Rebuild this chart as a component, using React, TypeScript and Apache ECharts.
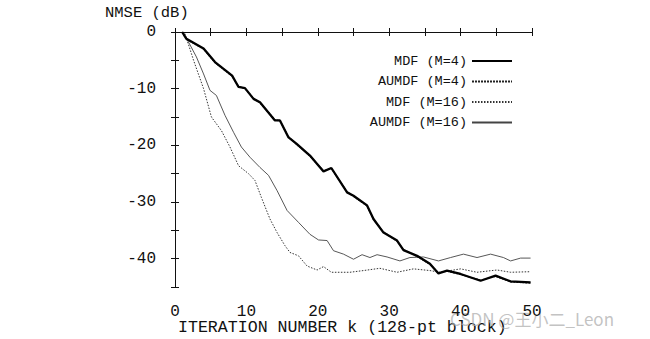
import React, { useEffect, useRef } from "react";
import * as echarts from "echarts";

const seriesNames = ["MDF (M=4)", "AUMDF (M=4)", "MDF (M=16)", "AUMDF (M=16)"];

const mdf4: [number, number][] = [
  [1, 0], [1.6, -1.2], [4, -2.9], [5.6, -5.3], [8, -7.7], [8.9, -9.7], [9.8, -9.9],
  [11, -11.8], [11.9, -12.4], [14, -15.6], [14.7, -15.6], [15.9, -18.6], [17, -19.7],
  [18.9, -21.8], [20.8, -24.6], [21.9, -24], [24.1, -28.3], [25, -28.9], [26.9, -30.6],
  [27.8, -33], [29.2, -35.4], [31.1, -36.8], [32, -38.5], [33.9, -39.5], [35.7, -40.9],
  [36.9, -42.6], [38.1, -42.1], [40, -42.7], [42.8, -43.9], [44.9, -43], [47, -44], [49.8, -44.2],
];

const aumdf4: [number, number][] = [
  [1, 0], [1.6, -1.3], [4, -3.0], [5.6, -5.4], [8, -7.8], [8.9, -9.6], [9.8, -10.0],
  [11, -11.7], [11.9, -12.5], [14, -15.5], [14.7, -15.7], [15.9, -18.5], [17, -19.8],
  [18.9, -21.9], [20.8, -24.5], [21.9, -24.1], [24.1, -28.2], [25, -29.0], [26.9, -30.7],
  [27.8, -33.1], [29.2, -35.3], [31.1, -36.9], [32, -38.4], [33.9, -39.6], [35.7, -41.0],
  [36.9, -42.5], [38.1, -42.2], [40, -42.8], [42.8, -43.8], [44.9, -43.1], [47, -44.1], [49.8, -44.3],
];

const mdf16: [number, number][] = [
  [1, 0], [1.4, -0.3], [2.6, -5], [4, -10], [5.1, -15], [6.5, -17.4], [7.7, -20.3],
  [8.9, -23.6], [10.3, -25], [11.2, -26.2], [12.1, -29.2], [13.3, -33], [14.3, -35.4],
  [15.4, -37.7], [16.1, -38.9], [17.3, -39.5], [18.5, -41.3], [19.9, -42], [20.8, -41.4],
  [21.9, -42.4], [24.5, -42.4], [26.4, -42.1], [28.7, -41.7], [31.1, -42.4], [33.4, -41.8],
  [35.7, -42.1], [37.1, -42.4], [40, -41.8], [42.3, -42.4], [45.1, -42], [47, -42.4], [49.8, -42.3],
];

const aumdf16: [number, number][] = [
  [1, 0], [1.4, -0.6], [3, -4.4], [4, -7.4], [4.9, -10.3], [5.8, -11.2], [7, -14.7],
  [8.2, -17.7], [9.3, -20.3], [10.5, -22.1], [11.9, -23.9], [13.1, -25.3], [14.3, -28],
  [15.7, -31.5], [17.3, -33.6], [18.9, -35.7], [20.1, -36.7], [21.3, -36.8], [22.2, -38.6],
  [23.6, -39.2], [25, -40.1], [26.2, -39.3], [27.3, -39.8], [28.3, -39.3], [29.7, -39.7],
  [31.5, -40.4], [32.9, -39.8], [34.8, -39.7], [36.9, -40.4], [38.6, -39.8], [40.4, -39.2],
  [42.3, -39.8], [44.2, -39.2], [46, -39.8], [47, -40.4], [48.4, -39.9], [49.8, -39.9],
];

const xTickLabels = ["0", "10", "20", "30", "40", "50"];
const yTickLabels = ["0", "-10", "-20", "-30", "-40"];

const FONT = "'Liberation Mono', 'DejaVu Sans Mono', monospace";

export default function App() {
  const ref = useRef<HTMLDivElement>(null);
  useEffect(() => {
    if (!ref.current) return;
    const chart = echarts.init(ref.current, null, { renderer: "svg" });
    const axisLine = { show: true, lineStyle: { color: "#111", width: 1 } };
    const tick = { show: true, inside: true, length: 4, lineStyle: { color: "#111" } };
    chart.setOption({
      animation: false,
      backgroundColor: "#fff",
      grid: { left: 175, right: 118, top: 32, bottom: 52 },
      legend: {
        data: seriesNames,
        orient: "vertical",
        align: "right",
        right: 132,
        top: 49,
        itemWidth: 40,
        itemHeight: 14,
        itemGap: 6.5,
        textStyle: { fontFamily: FONT, fontSize: 13.5, color: "#111" },
      },
      xAxis: [
        {
          type: "value",
          min: 0,
          max: 50,
          interval: 5,
          axisLine,
          axisTick: tick,
          splitLine: { show: false },
          axisLabel: {
            margin: 17,
            fontFamily: FONT,
            fontSize: 16,
            color: "#111",
            formatter: (v: number) => (xTickLabels.includes(String(v)) ? String(v) : ""),
          },
        },
        {
          type: "value",
          position: "top",
          min: 0,
          max: 50,
          interval: 5,
          axisLine,
          axisTick: tick,
          splitLine: { show: false },
          axisLabel: { show: false },
        },
      ],
      yAxis: [
        {
          type: "value",
          min: -45,
          max: 0,
          interval: 5,
          axisLine,
          axisTick: tick,
          splitLine: { show: false },
          axisLabel: {
            margin: 19,
            fontFamily: FONT,
            fontSize: 16,
            color: "#111",
            formatter: (v: number) => (yTickLabels.includes(String(v)) ? String(v) : ""),
          },
        },
        {
          type: "value",
          position: "right",
          min: -45,
          max: 0,
          interval: 5,
          axisLine,
          axisTick: tick,
          splitLine: { show: false },
          axisLabel: { show: false },
        },
      ],
      series: [
        {
          name: seriesNames[0],
          type: "line",
          data: mdf4,
          symbol: "none",
          lineStyle: { color: "#000", width: 2.3 },
          itemStyle: { color: "#000", opacity: 0 },
          z: 5,
        },
        {
          name: seriesNames[1],
          type: "line",
          data: aumdf4,
          symbol: "none",
          lineStyle: { color: "#222", width: 1.3, type: [2, 1] },
          itemStyle: { color: "#222", opacity: 0 },
          z: 4,
        },
        {
          name: seriesNames[2],
          type: "line",
          data: mdf16,
          symbol: "none",
          lineStyle: { color: "#333", width: 1, type: [1.5, 1.5] },
          itemStyle: { color: "#333", opacity: 0 },
        },
        {
          name: seriesNames[3],
          type: "line",
          data: aumdf16,
          symbol: "none",
          lineStyle: { color: "#444", width: 0.9 },
          itemStyle: { color: "#444", opacity: 0 },
        },
      ],
      graphic: [
        {
          type: "text",
          left: 105,
          top: 5,
          style: { text: "NMSE (dB)", font: `15.5px ${FONT}`, fill: "#111" },
        },
        {
          type: "text",
          left: 178,
          top: 319,
          style: { text: "ITERATION NUMBER k (128-pt block)", font: `16.6px ${FONT}`, fill: "#111" },
        },
        {
          type: "text",
          left: 450,
          top: 310,
          style: {
            text: "CSDN @王小二_Leon",
            font: "17px 'Noto Sans CJK SC', 'Noto Sans', sans-serif",
            fill: "rgba(175,175,175,0.75)",
          },
        },
      ],
    });
    return () => chart.dispose();
  }, []);
  return (
    <div
      ref={ref}
      style={{ position: "absolute", left: 0, top: 0, width: 650, height: 339 }}
    />
  );
}
